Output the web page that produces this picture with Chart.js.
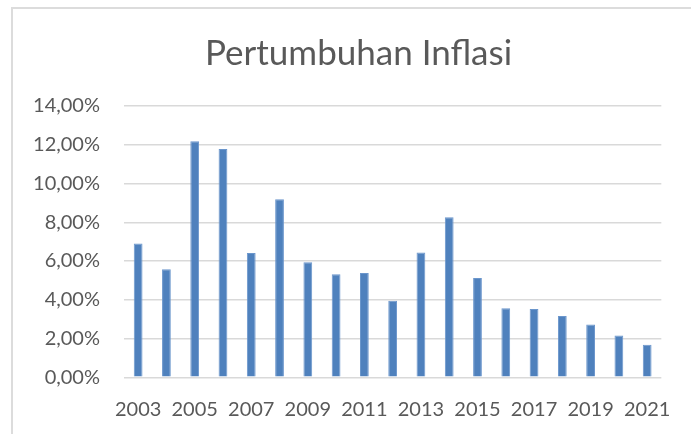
<!DOCTYPE html>
<html>
<head>
<meta charset="utf-8">
<title>Pertumbuhan Inflasi</title>
<script src="https://cdn.jsdelivr.net/npm/chart.js@4/dist/chart.umd.min.js"></script>
<style>
  html, body { margin: 0; padding: 0; background: #fff; overflow: hidden; }
  #frame {
    position: absolute; left: 11px; top: 7px; width: 690px; height: 440px;
    border: 2px solid #dcdcdc; box-sizing: border-box;
  }
  #wrap { position: absolute; left: 0; top: 0; width: 691px; height: 434px; }
</style>
</head>
<body>
<div id="frame"></div>
<div id="wrap"><canvas id="inflasiChart"></canvas></div>
<script>
// data (inflasi per tahun, dalam persen)
const years = ['2003','2004','2005','2006','2007','2008','2009','2010','2011','2012',
               '2013','2014','2015','2016','2017','2018','2019','2020','2021'];
const inflasi = [6.91, 5.58, 12.18, 11.78, 6.41, 9.19, 5.94, 5.32, 5.38, 3.95,
                 6.44, 8.26, 5.12, 3.56, 3.52, 3.16, 2.73, 2.16, 1.68];
const yTicks = [0, 2, 4, 6, 8, 10, 12, 14];

const textColor = '#595959';
const fontFamily = "Lato, 'Open Sans', sans-serif";

const ctx = document.getElementById('inflasiChart').getContext('2d');
const chart = new Chart(ctx, {
    type: 'bar',
    data: {
        labels: years,
        datasets: [{
            label: 'Inflasi',
            data: inflasi,
            backgroundColor: '#4f81bd',
            borderColor: '#6b96cc',
            borderWidth: 1,
            barPercentage: 0.31,
            categoryPercentage: 1
        }]
    },
    options: {
        responsive: true,
        maintainAspectRatio: false,
        animation: false,
        layout: { padding: { left: 50, right: 24, top: 0, bottom: 0 } },
        plugins: {
            legend: { display: false },
            tooltip: { enabled: false },
            title: {
                display: true,
                text: 'Pertumbuhan Inflasi',
                color: textColor,
                font: { family: fontFamily, size: 35, weight: 'normal', lineHeight: 1.2 },
                padding: { top: 33, bottom: 31 }
            }
        },
        scales: {
            x: {
                afterFit: scale => { scale.height = 56.7; },
                grid: { display: false, drawTicks: false },
                border: { display: false },
                ticks: {
                    autoSkip: false,
                    maxRotation: 0,
                    padding: 20,
                    color: textColor,
                    font: { family: fontFamily, size: 20 },
                    callback: (v, i) => (i % 2 === 0 ? years[i] : '')
                }
            },
            y: {
                min: yTicks[0],
                max: yTicks[yTicks.length - 1],
                afterFit: scale => {
                    scale.width = 74;
                    // labels sit left of the padded box, so don't clip them
                    scale._computeLabelArea = () => undefined;
                },
                afterBuildTicks: scale => { scale.ticks = yTicks.map(v => ({ value: v })); },
                grid: { color: '#d9d9d9', lineWidth: 1.5, drawTicks: false },
                border: { display: false },
                ticks: {
                    padding: 24,
                    color: textColor,
                    font: { family: fontFamily, size: 20 },
                    callback: v => v.toFixed(2).replace('.', ',') + '%'
                }
            }
        }
    }
});
</script>
</body>
</html>
